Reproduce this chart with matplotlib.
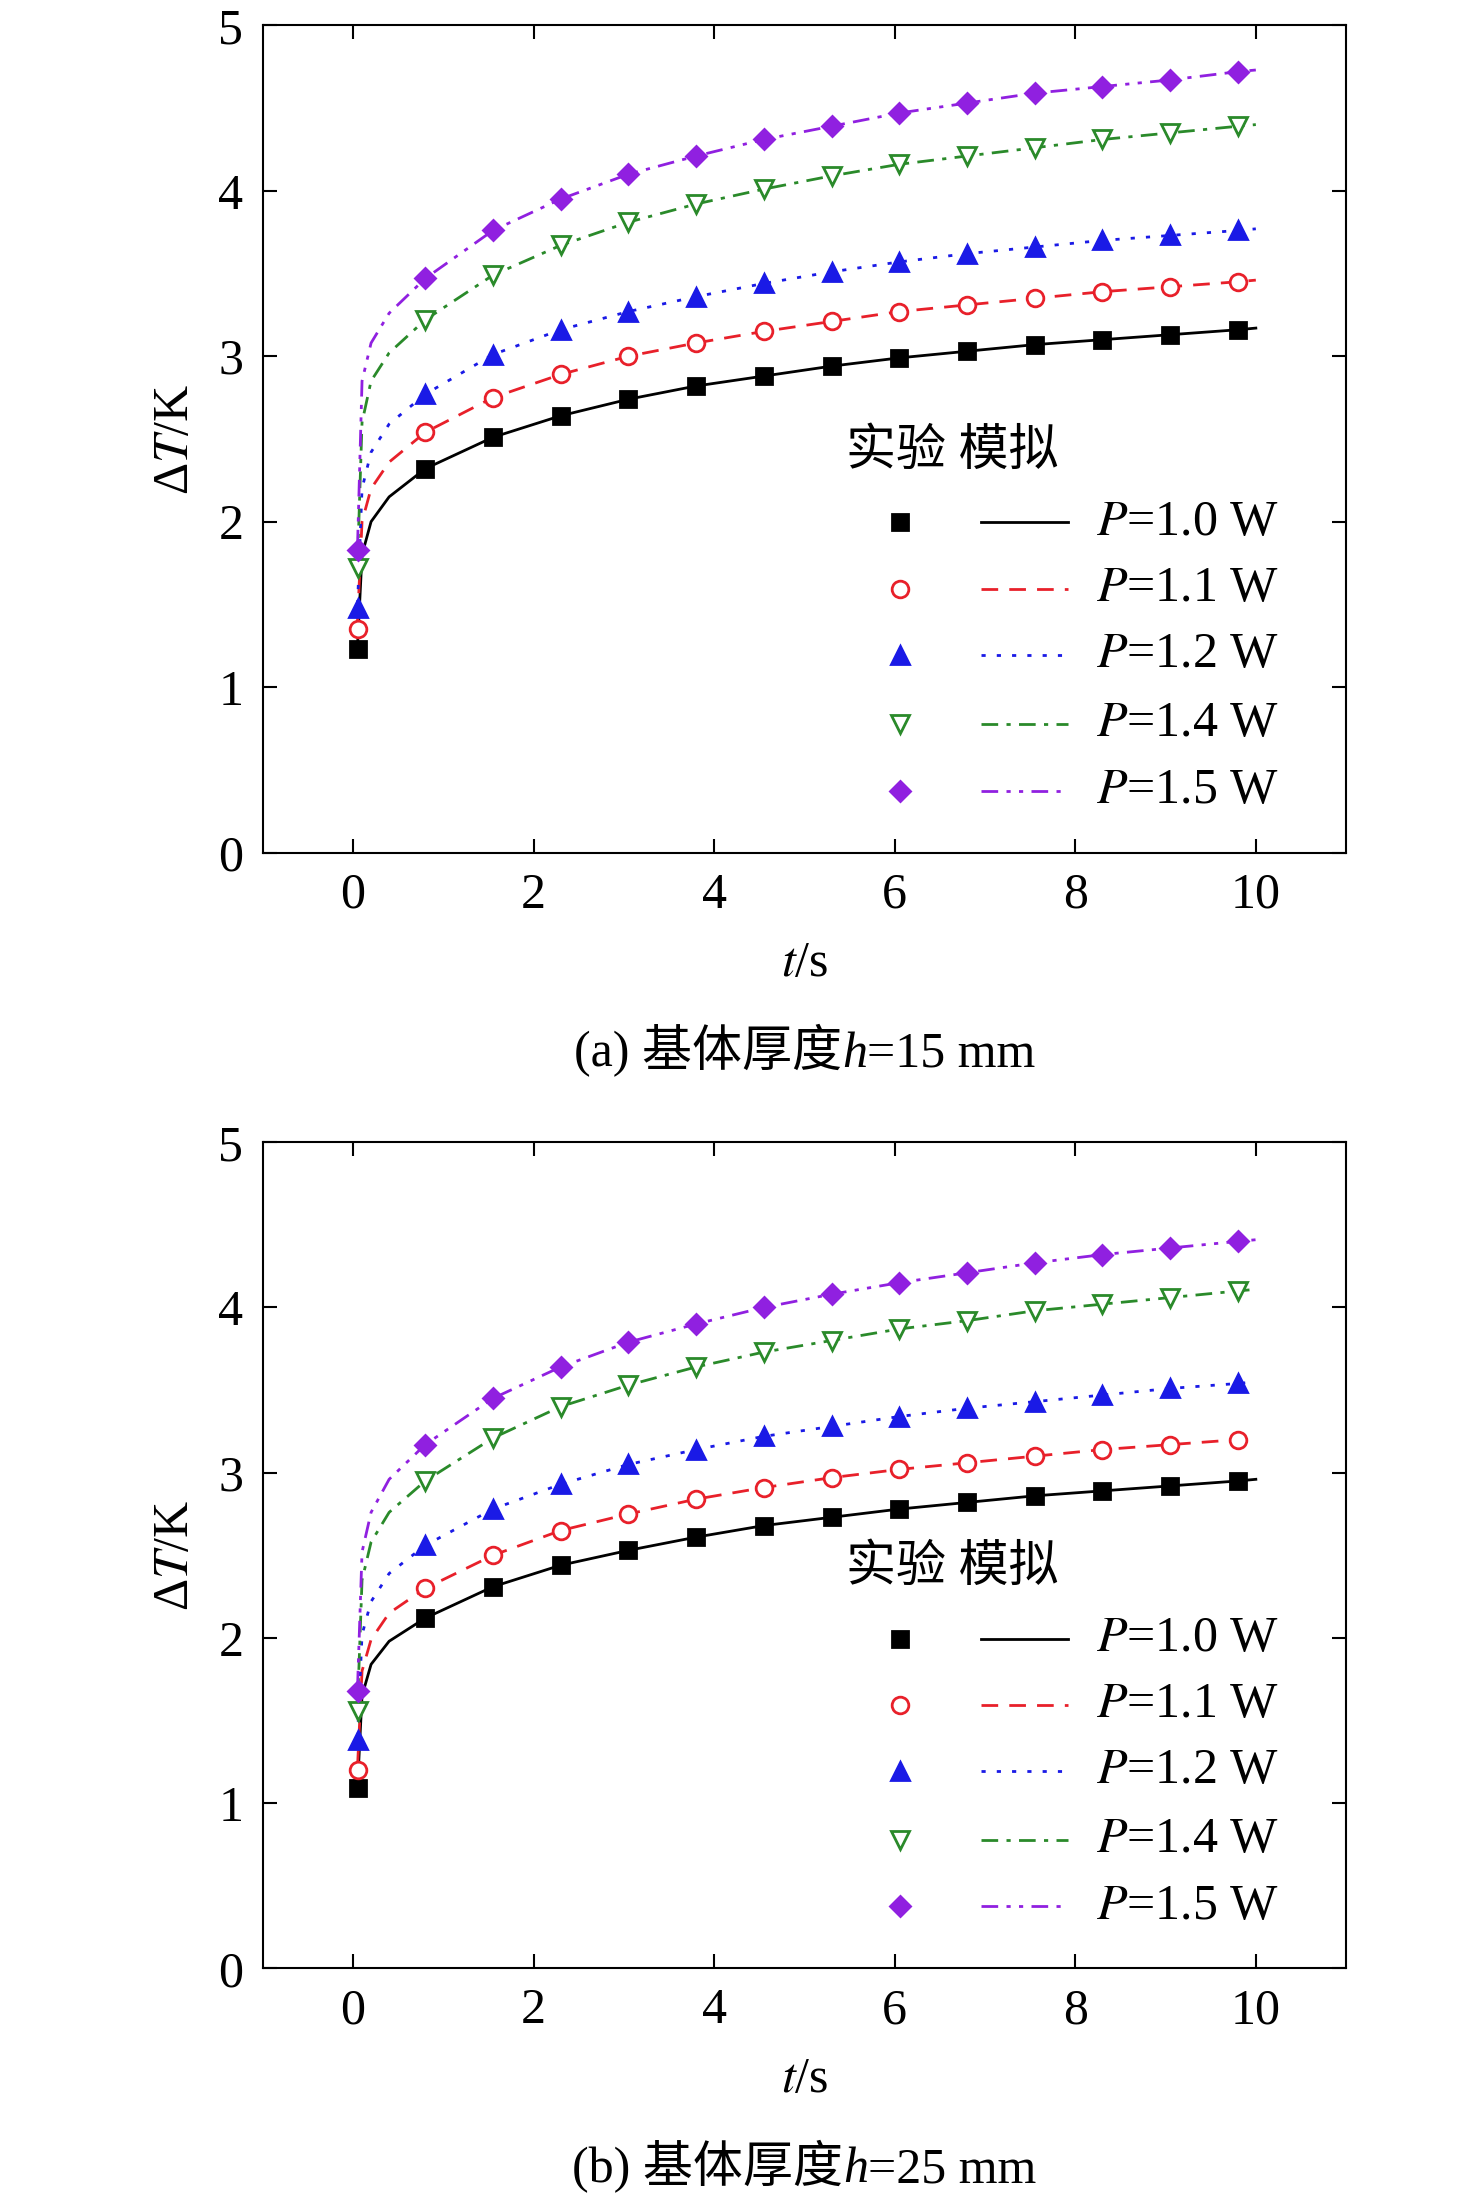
import numpy as np
import matplotlib
matplotlib.use('Agg')
import matplotlib.pyplot as plt
from matplotlib.offsetbox import TextArea, HPacker, AnchoredOffsetbox

plt.rcParams['font.family'] = ['Liberation Serif', 'Noto Sans CJK SC']
plt.rcParams['mathtext.fontset'] = 'stix'
plt.rcParams['font.size'] = 30

# Время опыта (с)
t_exp = [0.05, 0.8, 1.55, 2.3, 3.05, 3.8, 4.55, 5.3, 6.05, 6.8, 7.55, 8.3, 9.05, 9.8]
t_early = [0.05, 0.1, 0.2, 0.4]

labels = ['1.0', '1.1', '1.2', '1.4', '1.5']

# Эксперимент, h=15 mm
exp_a = [
    [1.23, 2.32, 2.51, 2.64, 2.74, 2.82, 2.88, 2.94, 2.99, 3.03, 3.07, 3.10, 3.13, 3.16],
    [1.35, 2.54, 2.75, 2.89, 3.00, 3.08, 3.15, 3.21, 3.27, 3.31, 3.35, 3.39, 3.42, 3.45],
    [1.48, 2.77, 3.01, 3.16, 3.27, 3.36, 3.44, 3.51, 3.57, 3.62, 3.66, 3.70, 3.73, 3.76],
    [1.72, 3.22, 3.49, 3.67, 3.81, 3.92, 4.01, 4.09, 4.16, 4.21, 4.26, 4.31, 4.35, 4.39],
    [1.83, 3.47, 3.76, 3.95, 4.10, 4.21, 4.31, 4.39, 4.47, 4.53, 4.59, 4.63, 4.67, 4.72],
]
# Эксперимент, h=25 mm
exp_b = [
    [1.09, 2.12, 2.31, 2.44, 2.53, 2.61, 2.68, 2.73, 2.78, 2.82, 2.86, 2.89, 2.92, 2.95],
    [1.20, 2.30, 2.50, 2.65, 2.75, 2.84, 2.91, 2.97, 3.02, 3.06, 3.10, 3.14, 3.17, 3.20],
    [1.38, 2.56, 2.78, 2.93, 3.05, 3.14, 3.22, 3.28, 3.34, 3.39, 3.43, 3.47, 3.51, 3.54],
    [1.56, 2.95, 3.21, 3.40, 3.53, 3.64, 3.73, 3.80, 3.87, 3.92, 3.98, 4.02, 4.06, 4.10],
    [1.68, 3.17, 3.45, 3.64, 3.79, 3.90, 4.00, 4.08, 4.15, 4.21, 4.27, 4.32, 4.36, 4.40],
]
# Моделирование: начальный участок и значение при t=10
sim_early_a = [[1.25, 1.80, 2.00, 2.15], [1.40, 2.00, 2.20, 2.36], [1.50, 2.20, 2.42, 2.59],
               [1.75, 2.60, 2.85, 3.02], [1.85, 2.85, 3.08, 3.26]]
sim_end_a = [3.17, 3.46, 3.77, 4.40, 4.73]
sim_early_b = [[1.10, 1.65, 1.84, 1.98], [1.22, 1.80, 1.99, 2.15], [1.40, 2.02, 2.22, 2.39],
               [1.58, 2.35, 2.58, 2.76], [1.70, 2.52, 2.76, 2.96]]
sim_end_b = [2.96, 3.21, 3.55, 4.11, 4.41]

colors = ['black', '#e8202a', '#1a1ae6', '#2a8a2a', '#9020e0']
markers = ['s', 'o', '^', 'v', 'D']
filled = [True, False, True, False, True]
msizes = [12, 12, 13, 13, 10]
dashes = [(None, None), (6, 4), (1.5, 4), (6, 3, 1.5, 3), (6, 3, 1.5, 3, 1.5, 3)]

FS = 36

fig = plt.figure(figsize=(14.76, 22.03), dpi=100)
ax_a = fig.add_axes([0.178, 0.613, 0.734, 0.3755])
ax_b = fig.add_axes([0.178, 0.1065, 0.734, 0.375])


def draw(ax, exp, early, end, tag, thick):
    t_sim = t_early + t_exp[1:] + [10]
    for i in range(5):
        y_sim = early[i] + exp[i][1:] + [end[i]]
        line, = ax.plot(t_sim, y_sim, color=colors[i], lw=2)
        if i > 0:
            line.set_dashes(dashes[i])
        ax.plot(t_exp, exp[i], ls='none', marker=markers[i], ms=msizes[i],
                mec=colors[i], mfc=colors[i] if filled[i] else 'white', mew=2)
    ax.set_xlim(-1, 11)
    ax.set_ylim(0, 5)
    ax.set_xticks([0, 2, 4, 6, 8, 10])
    ax.set_yticks([0, 1, 2, 3, 4, 5])
    ax.tick_params(direction='in', top=True, right=True, length=10, width=1.5, labelsize=FS, pad=14)
    for s in ax.spines.values():
        s.set_linewidth(1.5)
    ax.set_ylabel(r'Δ$\mathit{T}$/K', fontsize=FS, labelpad=14)
    ax.set_xlabel(r'$\mathit{t}$/s', fontsize=FS, labelpad=16)

    # Легенда вручную
    ax.text(0.538, 0.484, '实验 模拟', transform=ax.transAxes, fontsize=FS, va='center')
    rows = [0.399, 0.319, 0.239, 0.156, 0.075]
    for i in range(5):
        ax.plot([0.588], [rows[i]], transform=ax.transAxes, ls='none', marker=markers[i],
                ms=msizes[i], mec=colors[i], mfc=colors[i] if filled[i] else 'white', mew=2)
        ln, = ax.plot([0.663, 0.743], [rows[i], rows[i]], transform=ax.transAxes,
                      color=colors[i], lw=2)
        if i > 0:
            ln.set_dashes(dashes[i])
        ax.text(0.769, rows[i], r'$\mathit{P}$=' + labels[i] + ' W', transform=ax.transAxes,
                fontsize=FS, va='center')

    # Подпись под графиком
    parts = [TextArea(tag + ' 基体厚度', textprops=dict(fontsize=FS)),
             TextArea('h', textprops=dict(fontsize=FS, style='italic', family='Liberation Serif')),
             TextArea('=' + thick + ' mm', textprops=dict(fontsize=FS))]
    box = HPacker(children=parts, align='baseline', pad=0, sep=0)
    anchored = AnchoredOffsetbox(loc='center', child=box, frameon=False,
                                 bbox_to_anchor=(0.5, -0.24), bbox_transform=ax.transAxes,
                                 borderpad=0, pad=0)
    ax.add_artist(anchored)


draw(ax_a, exp_a, sim_early_a, sim_end_a, '(a)', '15')
draw(ax_b, exp_b, sim_early_b, sim_end_b, '(b)', '25')

fig.savefig('out.png', dpi=100)
